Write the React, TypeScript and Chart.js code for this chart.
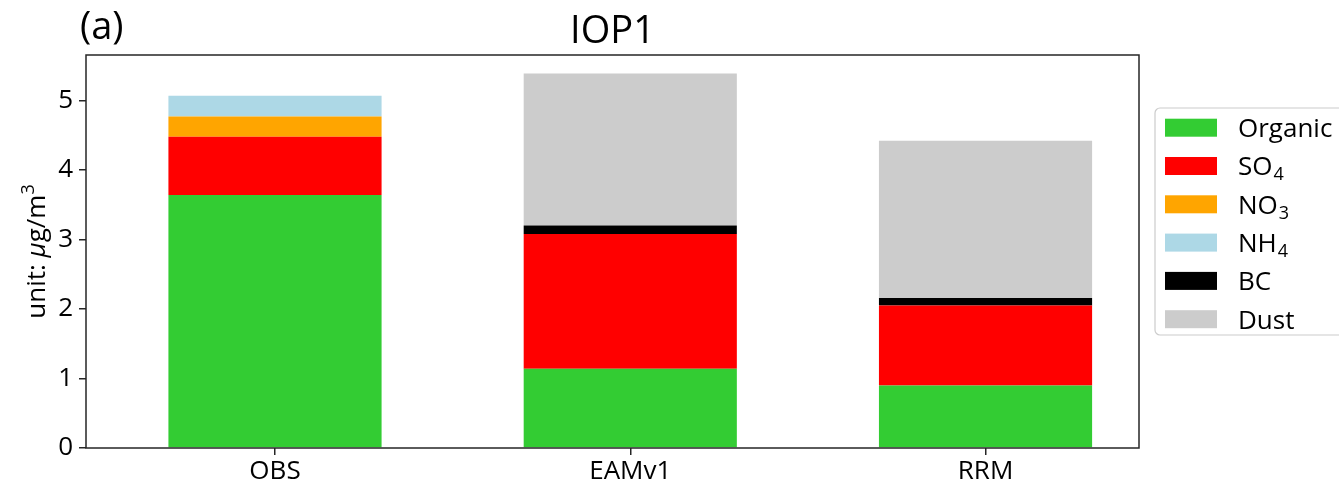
import React, { useEffect, useRef } from "react";
import { Chart, registerables } from "chart.js";

Chart.register(...registerables);

// ---- data ----
const categories = ["OBS", "EAMv1", "RRM"];
const categoryPositions = [0, 1, 2];
const organic = [3.64, 1.14, 0.9];
const so4 = [0.84, 1.94, 1.15];
const no3 = [0.29, 0, 0];
const nh4 = [0.3, 0, 0];
const bc = [0, 0.12, 0.11];
const dust = [0, 2.19, 2.26];
const yTicks = [0, 1, 2, 3, 4, 5];
const seriesNames = ["Organic", "SO_4", "NO_3", "NH_4", "BC", "Dust"];
const seriesColors = ["#33cc33", "#ff0000", "#ffa500", "#add8e6", "#000000", "#cccccc"];
const seriesValues = [organic, so4, no3, nh4, bc, dust];
const titleText = "IOP1";
const panelLabel = "(a)";

const FONT = '"Open Sans", "DejaVu Sans", sans-serif';
const AXIS_COLOR = "#262626";

function plainName(n: string) {
  const subs: Record<string, string> = { "3": "\u2083", "4": "\u2084" };
  const [a, b] = n.split("_");
  return b ? a + (subs[b] || b) : a;
}

const decorPlugin = {
  id: "decor",
  afterDraw(chart: any) {
    const { ctx, chartArea } = chart;
    const { left, right, top, bottom } = chartArea;
    ctx.save();
    // frame
    ctx.strokeStyle = AXIS_COLOR;
    ctx.lineWidth = 1.5;
    ctx.strokeRect(left, top, right - left, bottom - top);

    // title
    ctx.fillStyle = "#000";
    ctx.textBaseline = "alphabetic";
    ctx.font = `38px ${FONT}`;
    ctx.textAlign = "center";
    ctx.fillText(titleText, (left + right) / 2, 43);

    // panel label
    ctx.font = `38px ${FONT}`;
    ctx.textAlign = "left";
    ctx.fillText(panelLabel, 80, 39);

    // y label: unit: μg/m^3
    const fs = 26;
    const pieces = [
      { t: "unit: ", f: `${fs}px ${FONT}`, dy: 0 },
      { t: "\u03bc", f: `italic ${fs}px ${FONT}`, dy: 0 },
      { t: "g/m", f: `${fs}px ${FONT}`, dy: 0 },
      { t: "3", f: `${Math.round(fs * 0.7)}px ${FONT}`, dy: -11 },
    ];
    let total = 0;
    for (const p of pieces) {
      ctx.font = p.f;
      total += ctx.measureText(p.t).width;
    }
    ctx.translate(45, (top + bottom) / 2);
    ctx.rotate(-Math.PI / 2);
    let x = -total / 2;
    for (const p of pieces) {
      ctx.font = p.f;
      ctx.fillText(p.t, x, p.dy);
      x += ctx.measureText(p.t).width;
    }
    ctx.setTransform(1, 0, 0, 1, 0, 0);

    // legend
    const lx = 1155, ly = 108, lw = 220, lh = 227;
    ctx.fillStyle = "rgba(255,255,255,0.8)";
    ctx.strokeStyle = "#cccccc";
    ctx.lineWidth = 1.2;
    ctx.beginPath();
    ctx.roundRect(lx, ly, lw, lh, 5);
    ctx.fill();
    ctx.stroke();
    const lfs = 26;
    seriesNames.forEach((name, i) => {
      const cy = 127.7 + i * 38.3;
      ctx.fillStyle = seriesColors[i];
      ctx.fillRect(1165, cy - 9, 52, 18);
      ctx.fillStyle = "#000";
      const [main, sub] = name.split("_");
      ctx.font = `${lfs}px ${FONT}`;
      const base = cy + 9.3;
      ctx.fillText(main, 1238, base);
      if (sub) {
        const w = ctx.measureText(main).width;
        ctx.font = `${Math.round(lfs * 0.7)}px ${FONT}`;
        ctx.fillText(sub, 1238 + w + 1, base + 5);
      }
    });
    ctx.restore();
  },
};

export default function App() {
  const ref = useRef<HTMLCanvasElement | null>(null);
  useEffect(() => {
    if (!ref.current) return;
    const tickFont = { family: FONT, size: 26 };
    const chart = new Chart(ref.current, {
      type: "bar",
      data: {
        datasets: seriesValues.map((vals, i) => ({
          label: plainName(seriesNames[i]),
          data: vals.map((v, j) => ({ x: categoryPositions[j], y: v })),
          backgroundColor: seriesColors[i],
          borderWidth: 0,
          categoryPercentage: 1,
          barPercentage: 0.6,
        })),
      },
      options: {
        animation: false,
        responsive: false,
        devicePixelRatio: 1,
        layout: { padding: { left: 0, right: 200, top: 55, bottom: 0 } },
        plugins: {
          legend: { display: false },
          tooltip: { enabled: false },
          title: { display: false },
        },
        scales: {
          x: {
            type: "linear",
            min: -0.532,
            max: 2.432,
            offset: false,
            stacked: true,
            grid: {
              display: true,
              offset: false,
              drawOnChartArea: false,
              drawTicks: true,
              tickLength: 7,
              color: AXIS_COLOR,
              lineWidth: 1.5,
            },
            border: { display: false },
            ticks: {
              font: tickFont,
              color: "#000",
              padding: 1,
              maxRotation: 0,
              autoSkip: false,
              callback: (v: any) => categories[categoryPositions.indexOf(Number(v))] ?? "",
            },
            afterBuildTicks: (axis: any) => {
              axis.ticks = categoryPositions.map((v) => ({ value: v }));
            },
            afterFit: (s: any) => {
              s.height = 37;
            },
          },
          y: {
            type: "linear",
            min: 0,
            max: 5.655,
            stacked: true,
            grid: {
              display: true,
              offset: false,
              drawOnChartArea: false,
              drawTicks: true,
              tickLength: 7,
              color: AXIS_COLOR,
              lineWidth: 1.5,
            },
            border: { display: false },
            ticks: {
              font: tickFont,
              color: "#000",
              padding: 6,
              callback: (v: any) => String(v),
            },
            afterBuildTicks: (axis: any) => {
              axis.ticks = yTicks.map((v) => ({ value: v }));
            },
            afterFit: (s: any) => {
              s.width = 86;
            },
          },
        },
      } as any,
      plugins: [decorPlugin],
    });
    return () => chart.destroy();
  }, []);
  return (
    <div style={{ position: "fixed", left: 0, top: 0, width: 1339, height: 485, background: "#fff" }}>
      <canvas ref={ref} width={1339} height={485} style={{ display: "block", width: 1339, height: 485 }} />
    </div>
  );
}
